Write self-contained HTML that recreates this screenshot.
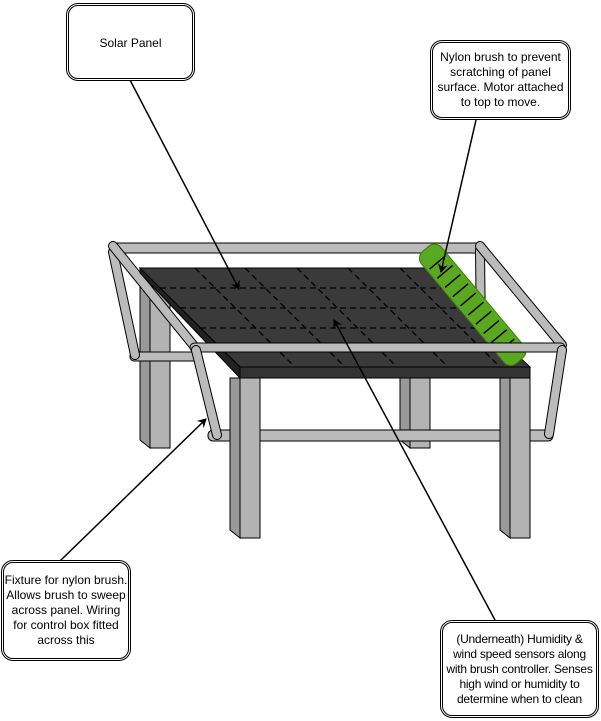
<!DOCTYPE html>
<html><head><meta charset="utf-8"><style>
html,body{margin:0;padding:0;background:#fff;}
.b{position:absolute;box-sizing:border-box;border:3px double #000;border-radius:12px;background:#fff;display:flex;align-items:center;justify-content:center;text-align:center;font-family:"Liberation Sans",sans-serif;font-size:12px;line-height:15px;color:#000;}
</style></head><body>
<div style="position:relative;width:601px;height:721px;overflow:hidden;">
<svg width="601" height="721" style="position:absolute;left:0;top:0">
<defs>
<marker id="ar" markerWidth="10" markerHeight="10" refX="8" refY="5" orient="auto" markerUnits="userSpaceOnUse"><path d="M0,0 L9,5 L0,10 L3,5 Z" fill="#000"/></marker>
<clipPath id="pc"><polygon points="140,268 425,268 530,367 240,367"/></clipPath>
</defs>
<g stroke="#000" stroke-width="1">
<polygon points="140,268 150,268 150,448 140,440" fill="#999"/>
<rect x="150" y="268" width="20" height="180" fill="#b3b3b3"/>
<polygon points="400,300 410,300 410,448 400,440" fill="#999"/>
<rect x="410" y="300" width="20" height="148" fill="#b3b3b3"/>
<rect x="130" y="352" width="70" height="9" rx="4" fill="#bbb"/>
<rect x="110" y="243" width="372" height="10" rx="5" fill="#bbb"/>
<line x1="480" y1="250" x2="481" y2="340" stroke="#000" stroke-width="10" stroke-linecap="round"/>
<line x1="480" y1="250" x2="481" y2="340" stroke="#bbb" stroke-width="8" stroke-linecap="round"/>
<line x1="113" y1="252" x2="135" y2="355" stroke="#000" stroke-width="10" stroke-linecap="round"/>
<line x1="113" y1="252" x2="135" y2="355" stroke="#bbb" stroke-width="8" stroke-linecap="round"/>
<line x1="113" y1="246" x2="194" y2="346" stroke="#000" stroke-width="10" stroke-linecap="round"/>
<line x1="113" y1="246" x2="194" y2="346" stroke="#bbb" stroke-width="8" stroke-linecap="round"/>
<polygon points="140,268 240,367 240,378 140,273" fill="#222"/>
<rect x="240" y="367" width="290" height="11" fill="#333"/>
<polygon points="140,268 425,268 530,367 240,367" fill="#3a3a3a"/>
<g clip-path="url(#pc)" stroke-dasharray="6,4" stroke-width="1.3">
<line x1="140" y1="288" x2="560" y2="288"/>
<line x1="140" y1="308" x2="560" y2="308"/>
<line x1="140" y1="328" x2="560" y2="328"/>
<line x1="195" y1="268" x2="295" y2="367"/>
<line x1="245" y1="268" x2="345" y2="367"/>
<line x1="297" y1="268" x2="397" y2="367"/>
<line x1="348" y1="268" x2="448" y2="367"/>
<line x1="400" y1="268" x2="500" y2="367"/>
</g>
<line x1="480" y1="246" x2="562" y2="345" stroke="#000" stroke-width="10" stroke-linecap="round"/>
<line x1="480" y1="246" x2="562" y2="345" stroke="#bbb" stroke-width="8" stroke-linecap="round"/>
<g transform="rotate(-40 472 304)">
<rect x="459" y="232" width="26" height="146" rx="9" fill="#5aa820" stroke="#3e7d10"/>
<g stroke="#000" stroke-width="1.5">
<line x1="462" y1="250" x2="482" y2="250"/><line x1="462" y1="262" x2="482" y2="262"/>
<line x1="462" y1="274" x2="482" y2="274"/><line x1="462" y1="286" x2="482" y2="286"/>
<line x1="462" y1="298" x2="482" y2="298"/><line x1="462" y1="310" x2="482" y2="310"/>
<line x1="462" y1="322" x2="482" y2="322"/><line x1="462" y1="334" x2="482" y2="334"/>
<line x1="462" y1="346" x2="482" y2="346"/><line x1="462" y1="358" x2="482" y2="358"/>
</g></g>
<rect x="190" y="343" width="375" height="9" rx="4.5" fill="#bbb"/>
<rect x="208" y="430" width="345" height="11" rx="5" fill="#bbb"/>
<polygon points="230,378 240,378 240,538 230,530" fill="#999"/>
<rect x="240" y="378" width="20" height="160" fill="#b3b3b3"/>
<polygon points="500,378 510,378 510,538 500,530" fill="#999"/>
<rect x="510" y="378" width="20" height="160" fill="#b3b3b3"/>
<line x1="196" y1="350" x2="217" y2="435" stroke="#000" stroke-width="10" stroke-linecap="round"/>
<line x1="196" y1="350" x2="217" y2="435" stroke="#bbb" stroke-width="8" stroke-linecap="round"/>
<line x1="562" y1="350" x2="549" y2="434" stroke="#000" stroke-width="10" stroke-linecap="round"/>
<line x1="562" y1="350" x2="549" y2="434" stroke="#bbb" stroke-width="8" stroke-linecap="round"/>
</g>
<g stroke="#000" stroke-width="1.5" fill="none">
<line x1="130" y1="80" x2="239" y2="289" marker-end="url(#ar)"/>
<line x1="476" y1="120" x2="441" y2="272" marker-end="url(#ar)"/>
<line x1="60" y1="561" x2="206" y2="419" marker-end="url(#ar)"/>
<line x1="495" y1="620" x2="334" y2="320" marker-end="url(#ar)"/>
</g>
</svg>
<div class="b" style="left:66px;top:3px;width:129px;height:78px;align-items:flex-start;padding-top:30px;">Solar Panel</div>
<div class="b" style="left:430px;top:40px;width:141px;height:80px;">Nylon brush to prevent scratching of panel surface. Motor attached to top to move.</div>
<div class="b" style="left:1px;top:560px;width:130px;height:101px;">Fixture for nylon brush. Allows brush to sweep across panel. Wiring for control box fitted across this</div>
<div class="b" style="left:440px;top:620px;width:159px;height:98px;letter-spacing:-0.25px;line-height:15px;"><div style="white-space:nowrap">(Underneath) Humidity &amp;<br>wind speed sensors along<br>with brush controller. Senses<br>high wind or humidity to<br>determine when to clean</div></div>
</div>
</body></html>
